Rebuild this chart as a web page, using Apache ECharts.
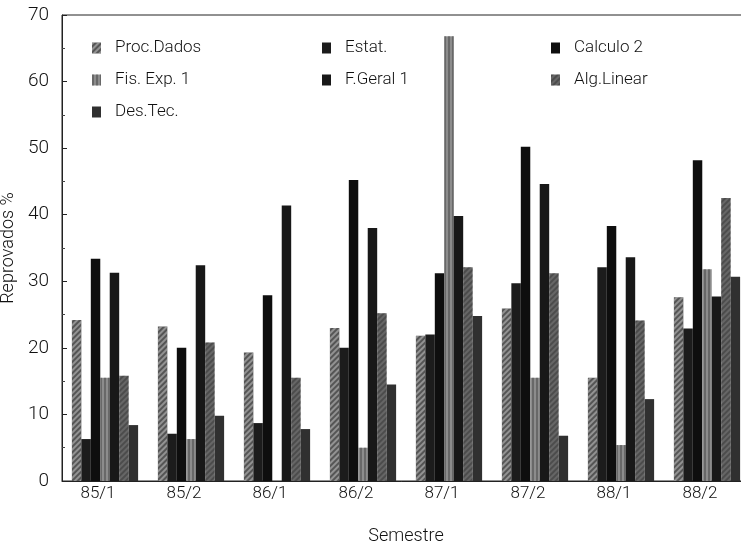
<!DOCTYPE html>
<html>
<head>
<meta charset="utf-8">
<script src="https://cdn.jsdelivr.net/npm/echarts@6/dist/echarts.min.js"></script>
<style>
  html, body { margin: 0; padding: 0; background: #fff; }
  #main { width: 741px; height: 547px; }
</style>
</head>
<body>
<div id="main"></div>
<script>
// semestres
const semestres = ['85/1', '85/2', '86/1', '86/2', '87/1', '87/2', '88/1', '88/2']
// reprovados % por disciplina
const procDados = [24.2, 23.2, 19.3, 23.0, 21.8, 25.9, 15.5, 27.6]
const estat = [6.3, 7.1, 8.7, 20.0, 22.0, 29.7, 32.1, 22.9]
const calculo2 = [33.4, 20.0, 27.9, 45.2, 31.2, 50.2, 38.3, 48.2]
const fisExp1 = [15.5, 6.3, 0, 5.0, 66.8, 15.5, 5.4, 31.8]
const fGeral1 = [31.3, 32.4, 41.4, 38.0, 39.8, 44.6, 33.6, 27.7]
const algLinear = [15.8, 20.8, 15.5, 25.2, 32.1, 31.2, 24.1, 42.5]
const desTec = [8.4, 9.8, 7.8, 14.5, 24.8, 6.8, 12.3, 30.7]
const yTicks = [0, 70, 10]

const font = 'Roboto, "DejaVu Sans", sans-serif'
const diag = (c) => ({ symbol: 'rect', symbolSize: 1, dashArrayX: [1, 0], dashArrayY: [2, 2], rotation: -Math.PI / 4, color: c })
const vert = (c) => ({ symbol: 'rect', symbolSize: 1, dashArrayX: [[2, 2]], dashArrayY: [4, 0], color: c })

const seriesDefs = [
  { name: 'Proc.Dados', data: procDados, color: '#555', decal: diag('rgba(220,220,220,0.45)') },
  { name: 'Estat.', data: estat, color: '#1c1c1c' },
  { name: 'Calculo 2', data: calculo2, color: '#0e0e0e' },
  { name: 'Fis. Exp. 1', data: fisExp1, color: '#8c8c8c', decal: vert('rgba(60,60,60,0.45)') },
  { name: 'F.Geral 1', data: fGeral1, color: '#181818' },
  { name: 'Alg.Linear', data: algLinear, color: '#666', decal: diag('rgba(30,30,30,0.35)') },
  { name: 'Des.Tec.', data: desTec, color: '#303030' }
]

const legendBase = {
  orient: 'vertical',
  top: 38,
  padding: 0,
  icon: 'rect',
  itemWidth: 9,
  itemHeight: 11,
  itemGap: 12,
  selectedMode: false,
  textStyle: { fontFamily: font, fontWeight: 300, fontSize: 17, color: '#111', lineHeight: 20, padding: [0, 0, 0, 9] }
}

var myChart = echarts.init(document.getElementById('main'))
var option = {
  animation: false,
  backgroundColor: '#fff',
  legend: [
    Object.assign({}, legendBase, { left: 92, data: ['Proc.Dados', 'Fis. Exp. 1', 'Des.Tec.'] }),
    Object.assign({}, legendBase, { left: 322, data: ['Estat.', 'F.Geral 1'] }),
    Object.assign({}, legendBase, { left: 551, data: ['Calculo 2', 'Alg.Linear'] })
  ],
  grid: {
    left: 62,
    right: -9,
    top: 15,
    bottom: 66,
    outerBoundsMode: 'none',
    show: true,
    borderColor: '#222',
    borderWidth: 1
  },
  xAxis: {
    type: 'category',
    data: semestres,
    name: 'Semestre',
    nameLocation: 'middle',
    nameGap: 46,
    nameMoveOverlap: false,
    nameTextStyle: { fontFamily: font, fontWeight: 300, fontSize: 18, color: '#111' },
    axisLine: { lineStyle: { color: '#222' } },
    axisTick: { show: false },
    axisLabel: { fontFamily: font, fontWeight: 300, fontSize: 17, color: '#111', margin: 4, padding: [0, 14, 0, 0] }
  },
  yAxis: {
    type: 'value',
    min: yTicks[0],
    max: yTicks[1],
    interval: yTicks[2],
    name: 'Reprovados %',
    nameLocation: 'middle',
    nameGap: 1,
    nameTextStyle: { fontFamily: font, fontWeight: 300, fontSize: 18, color: '#111' },
    axisLine: { show: true, lineStyle: { color: '#222' } },
    axisTick: { show: true, inside: true, length: 5, lineStyle: { color: '#222' } },
    minorTick: { show: true, splitNumber: 2, length: 3, lineStyle: { color: '#444' } },
    splitLine: { show: false },
    axisLabel: { fontFamily: font, fontWeight: 300, fontSize: 19, color: '#111', margin: 13 }
  },
  series: seriesDefs.map(s => ({
    name: s.name,
    type: 'bar',
    data: s.data,
    barGap: '0%',
    barCategoryGap: '23%',
    itemStyle: s.decal ? { color: s.color, decal: s.decal } : { color: s.color }
  }))
}
myChart.setOption(option)
</script>
</body>
</html>
